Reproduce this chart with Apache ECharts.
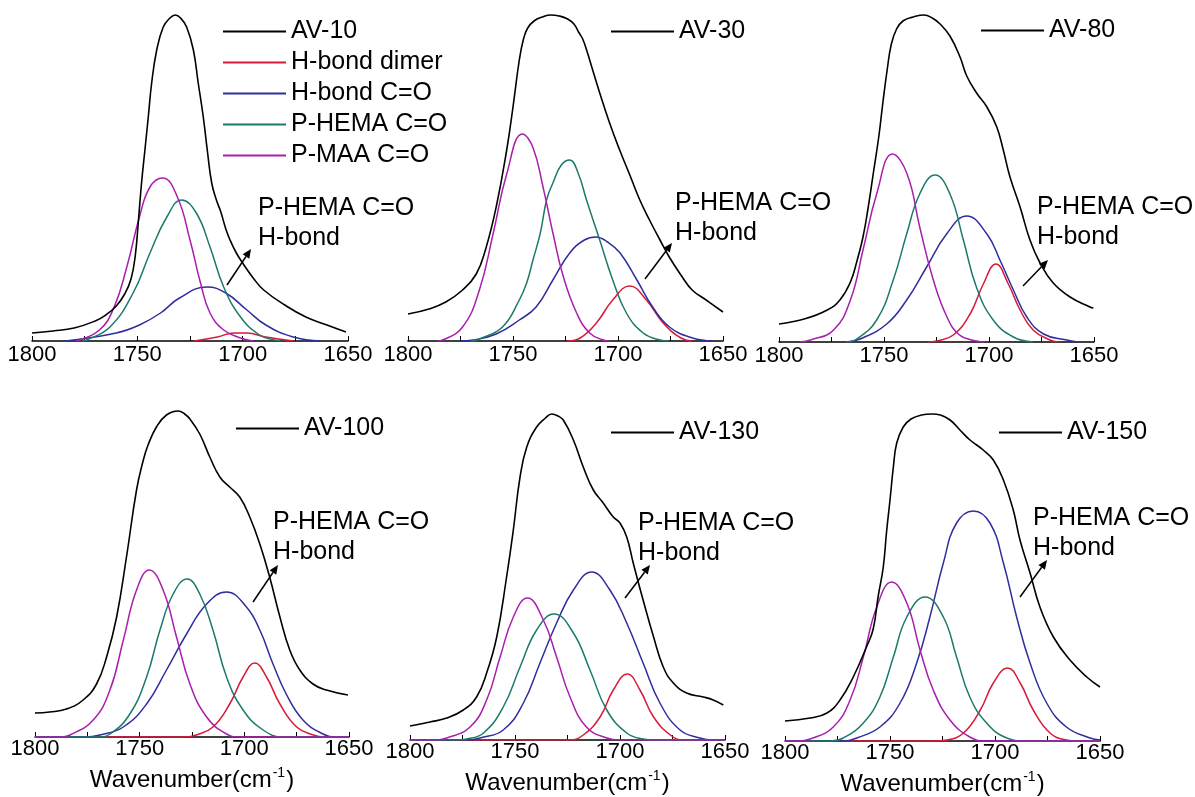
<!DOCTYPE html>
<html>
<head>
<meta charset="utf-8">
<title>FTIR C=O deconvolution</title>
<script src="https://cdn.jsdelivr.net/npm/echarts/dist/echarts.min.js"></script>
<style>
html, body { margin: 0; padding: 0; background: #fff; }
#chart { width: 1195px; height: 797px; }
</style>
</head>
<body>
<div id="chart"></div>
<script>
// x ticks (wavenumber, cm-1)
var xTicks = [1800, 1750, 1700, 1650];
var seriesNames = ['H-bond dimer', 'H-bond C=O', 'P-HEMA C=O', 'P-MAA C=O'];
var sampleNames = ['AV-10', 'AV-30', 'AV-80', 'AV-100', 'AV-130', 'AV-150'];

// ---- AV-10 ----  [wavenumber, absorbance (arb.)]
var av10Total = [[1800,8],[1790,10],[1780,13],[1770,20],[1765,26],[1760,35],[1756,47],[1753,62],[1751,85],[1749.5,120],[1748,158],[1746.4,191],[1744.8,224],[1743.2,258],[1740.8,291],[1737.7,314],[1734.5,323],[1732,326],[1729.5,323],[1726.6,314],[1723.4,291],[1721.1,258],[1718.7,224],[1716.8,191],[1714.7,158],[1712.3,140],[1710.5,130],[1708,112],[1706,101],[1703,88],[1700,78],[1695,63],[1690,51],[1680,36],[1670,24],[1660,16],[1651,9]];
var av10Dimer = [[1723,0],[1712,4],[1704,8],[1698,8],[1689,4],[1676,0]];
var av10HbondCO = [[1784,0],[1760,8],[1749,16],[1739,28],[1730,43],[1717,54],[1708,48],[1698,31],[1689,16],[1676,4],[1663,0]];
var av10HemaCO = [[1776,0],[1774,1],[1763,14],[1752,48],[1744,88],[1736,124],[1729,141],[1722,128],[1715.5,94],[1709,54],[1701,24],[1692,6],[1685,1],[1682,0]];
var av10MaaCO = [[1779,0],[1768,11],[1761,34],[1755,74],[1749,124],[1744,154],[1738,163],[1731,144],[1725,101],[1720,58],[1715.5,28],[1709,11],[1701,3],[1695,0]];

// ---- AV-30 ----
var av30Total = [[1800,27],[1790,32],[1782,39],[1774,51],[1767.5,67],[1763,92],[1758,134],[1753,191],[1750,234],[1747,281],[1745,302],[1743,313],[1740,320],[1736,324],[1732,326],[1728,325],[1724,322],[1721,317],[1718.5,308],[1716.8,302],[1714.5,288],[1712.5,274],[1708.7,248],[1704,218],[1699.2,191],[1694,164],[1689.6,141],[1685,121],[1680,101],[1675.6,84],[1669.4,64],[1664.7,51],[1658,41],[1650,29]];
var av30Dimer = [[1724,0],[1718,3],[1710.3,18],[1702.5,41],[1694.4,55],[1686.5,41],[1678.5,18],[1670,3],[1665,0]];
var av30HbondCO = [[1775,0],[1769,1],[1758,7],[1747,21],[1739,34],[1731,61],[1723,88],[1716,101],[1710.5,104],[1705,99],[1699,88],[1691,61],[1683.5,34],[1675.5,14],[1664.5,3],[1655,0]];
var av30HemaCO = [[1770,0],[1766,2],[1755,14],[1747,41],[1743.5,58],[1740.5,81],[1737,108],[1734,141],[1731,158],[1727,176],[1723,181],[1719,168],[1715,141],[1708.7,101],[1702.5,61],[1696,28],[1688,8],[1680,1],[1676,0]];
var av30MaaCO = [[1786,0],[1783.5,1],[1774,14],[1766,51],[1759.5,107],[1753,167],[1745.5,207],[1740.6,194],[1735.7,154],[1731,108],[1726,64],[1719.7,28],[1713.5,8],[1707,1],[1704,0]];

// ---- AV-80 ----
var av80Total = [[1800,18],[1788,23],[1777,32],[1771,42],[1766,60],[1763,80],[1760,105],[1757.5,135],[1755,170],[1752.5,205],[1750.5,240],[1748.5,272],[1746.5,298],[1744,313],[1741,321],[1736,325],[1731,327],[1727,324],[1723.3,318],[1718.6,306],[1713.8,285],[1710.6,266],[1705.9,249],[1701,235],[1696.3,215],[1693.2,192],[1690,165],[1685.2,135],[1680.5,102],[1675.7,79],[1669.4,59],[1661.4,45],[1652,35],[1650.3,34]];
var av80Dimer = [[1729,0],[1725,1],[1717,7],[1709,28],[1702.7,58],[1696.7,78],[1690.8,58],[1685.2,32],[1679,12],[1671,2],[1667,0]];
var av80HbondCO = [[1768,0],[1761.4,3],[1748.7,18],[1739.2,42],[1729.7,75],[1720.2,108],[1710.6,126],[1701,108],[1694.8,82],[1688.4,52],[1682,25],[1674,8],[1663,2],[1658,0]];
var av80HemaCO = [[1768,0],[1763,3],[1753.5,22],[1745.6,62],[1739.2,108],[1733,148],[1725.7,167],[1718.6,148],[1712.2,102],[1706,55],[1698,22],[1688.4,5],[1679,0]];
var av80MaaCO = [[1790,0],[1785,2],[1774,12],[1766,42],[1760,92],[1753.5,148],[1746,188],[1739,168],[1733,115],[1726.5,62],[1720,25],[1714,7],[1706,1],[1702,0]];

// ---- AV-100 ----
var av100Total = [[1800,24],[1793,25],[1785,28],[1777,37],[1770.6,53],[1765.8,80],[1761,120],[1756.3,180],[1751.5,247],[1748.5,275],[1746,292],[1742,310],[1737.2,322],[1731.6,326],[1728.5,323],[1726,318],[1721.3,303],[1716.5,280],[1711.7,260],[1707,250],[1702.2,240],[1697.4,220],[1692.6,193],[1687.9,160],[1683,120],[1678.3,87],[1673.5,67],[1667.2,53],[1660.8,47],[1650.5,42]];
var av100Dimer = [[1800,0],[1728,0],[1723,2],[1715,10],[1707,33],[1700.6,60],[1695,74],[1689.4,60],[1683,33],[1675,10],[1667,2],[1662,0],[1650,0]];
var av100HbondCO = [[1800,0],[1776,0],[1769,2],[1757.8,10],[1746.7,33],[1737.2,67],[1727.6,103],[1718,133],[1708.5,145],[1699,130],[1692.6,107],[1686.3,73],[1680,43],[1672,17],[1662.4,3],[1656,0],[1650,0]];
var av100HemaCO = [[1800,0],[1770,0],[1764.2,3],[1754.7,23],[1746.7,60],[1740.3,107],[1734,143],[1727.3,158],[1721.3,143],[1715,107],[1708.5,60],[1700.6,27],[1691,7],[1681.5,0],[1650,0]];
var av100MaaCO = [[1800,0],[1788,0],[1783.3,2],[1772.2,17],[1764.2,47],[1757.8,97],[1751.5,147],[1745.4,167],[1738.8,147],[1732.4,100],[1726,53],[1718,20],[1708.5,3],[1702,0],[1650,0]];

// ---- AV-130 ----
var av130Total = [[1800,14],[1790.5,18],[1782.5,22],[1774.6,30],[1768.3,43],[1763.5,67],[1758.7,103],[1754,163],[1750.8,210],[1747.6,263],[1744.4,293],[1739.7,313],[1735.5,322],[1732.5,326],[1729.5,324],[1727,320],[1722.2,300],[1717.5,273],[1712.7,250],[1708,237],[1703.2,223],[1700,217],[1696.8,203],[1693.7,177],[1689,140],[1684,103],[1679.4,73],[1674.6,57],[1668.3,47],[1660.3,43],[1655.6,40],[1650.8,35]];
var av130Dimer = [[1800,0],[1724,0],[1717.5,5],[1709.5,23],[1703.2,50],[1696.5,66],[1690.5,50],[1684,23],[1676,5],[1670,0],[1650,0]];
var av130HbondCO = [[1800,0],[1772,0],[1766.7,2],[1755.6,10],[1746,37],[1738.1,77],[1730.2,117],[1722.2,150],[1713.5,168],[1704.8,150],[1696.8,117],[1689,77],[1681,37],[1671.4,10],[1662,2],[1656,0],[1650,0]];
var av130HemaCO = [[1800,0],[1778,0],[1773,1],[1765,7],[1755.6,33],[1747.6,73],[1739.7,110],[1731.4,126],[1722.2,107],[1714.3,70],[1706.3,30],[1696.8,7],[1689,1],[1684,0],[1650,0]];
var av130MaaCO = [[1800,0],[1788,0],[1782.5,2],[1771.4,13],[1763.5,40],[1757.1,83],[1750.8,123],[1744.1,142],[1736.5,120],[1730.2,83],[1723.8,43],[1716,13],[1706.3,2],[1700,0],[1650,0]];

// ---- AV-150 ----
var av150Total = [[1800,20],[1788,23],[1780,28],[1773.8,41],[1767.5,64],[1761,95],[1758,112],[1755.6,145],[1753.2,174],[1751.6,210],[1750,241],[1748.4,274],[1746.8,298],[1743.7,314],[1740,322],[1735,326],[1730,327],[1726,326],[1721.4,321],[1716.7,311],[1711.9,301],[1705.6,291],[1700.8,281],[1696,261],[1691.3,231],[1688.1,201],[1683.3,168],[1678.6,134],[1672.2,104],[1664.3,81],[1656.3,64],[1650,54]];
var av150Dimer = [[1800,0],[1729,0],[1723,1],[1715,8],[1707,31],[1700.8,58],[1694,73],[1688,58],[1681.8,31],[1673.8,8],[1666,1],[1661,0],[1650,0]];
var av150HbondCO = [[1800,0],[1772,0],[1765.9,3],[1754.8,14],[1745.2,38],[1737.3,78],[1731,124],[1724.6,178],[1718.3,218],[1710.3,230],[1702.4,218],[1696,178],[1689.7,124],[1683.3,78],[1675.4,38],[1666,14],[1654.8,3],[1650,1]];
var av150HemaCO = [[1800,0],[1778,0],[1772.2,3],[1762.7,18],[1754.8,44],[1748.4,84],[1742,124],[1733.3,144],[1724.6,124],[1718.3,84],[1712,44],[1704,18],[1694.4,3],[1685,0],[1650,0]];
var av150MaaCO = [[1800,0],[1794,0],[1788,2],[1777,14],[1769,41],[1762.7,84],[1756.3,134],[1749.2,159],[1742,138],[1735.7,91],[1729.4,51],[1721.4,21],[1712,4],[1704,0],[1650,0]];

var totals = [av10Total, av30Total, av80Total, av100Total, av130Total, av150Total];
var parts = [
    [av10Dimer, av10HbondCO, av10HemaCO, av10MaaCO],
    [av30Dimer, av30HbondCO, av30HemaCO, av30MaaCO],
    [av80Dimer, av80HbondCO, av80HemaCO, av80MaaCO],
    [av100Dimer, av100HbondCO, av100HemaCO, av100MaaCO],
    [av130Dimer, av130HbondCO, av130HemaCO, av130MaaCO],
    [av150Dimer, av150HbondCO, av150HemaCO, av150MaaCO]
];

// layout (pixels)
var H = 330;
var boxes = [
    {left: 32, top: 11, width: 316},
    {left: 408, top: 11, width: 315},
    {left: 779, top: 12, width: 315},
    {left: 35, top: 407, width: 314},
    {left: 410, top: 410, width: 315},
    {left: 785, top: 411, width: 315}
];
var legendPos = [[222, 19], [610, 19], [980, 18], [235, 416], [610, 420], [998, 420]];
var notePos = [[258, 208, 227, 285, 251, 249], [675, 203, 645, 279, 672, 243], [1037, 207, 1023, 286, 1048, 260],
               [273, 522, 253, 602, 278, 565], [638, 523, 625, 598, 650, 565], [1033, 518, 1020, 597, 1047, 560]];

var colors = ['#d81a3a', '#2e2e9e', '#1c7a6c', '#a81fae'];
var FONT = '"Liberation Sans", Arial, sans-serif';

var myChart = echarts.init(document.getElementById('chart'));

var grids = [], xAxes = [], yAxes = [], series = [], legends = [], graphics = [];

boxes.forEach(function (b, i) {
    grids.push({left: b.left, top: b.top, width: b.width, height: H});
    var bottomRow = i >= 3;
    xAxes.push({
        gridIndex: i, type: 'value', inverse: true,
        min: xTicks[3], max: xTicks[0], interval: 50,
        axisLine: {lineStyle: {color: '#000', width: 1.5}},
        axisTick: {inside: true, length: 5, lineStyle: {color: '#000', width: 1}},
        minorTick: {show: true, splitNumber: 2, length: 5, lineStyle: {color: '#000', width: 1}},
        splitLine: {show: false},
        axisLabel: {color: '#000', fontSize: 22, fontFamily: FONT, margin: bottomRow ? 1 : 3,
            formatter: function (v) { return String(v); }},
        name: bottomRow ? '{a|Wavenumber(cm}{s|-1}{a|)}' : '',
        nameLocation: 'middle', nameGap: 29,
        nameTextStyle: {
            rich: {
                a: {fontSize: 24, fontFamily: FONT, color: '#000', lineHeight: 28},
                s: {fontSize: 14, fontFamily: FONT, color: '#000', verticalAlign: 'top', lineHeight: 28, padding: [0, 1, 0, 1]}
            }
        }
    });
    yAxes.push({gridIndex: i, type: 'value', min: 0, max: H, show: false});

    parts[i].forEach(function (d, k) {
        series.push({
            name: seriesNames[k], type: 'line', xAxisIndex: i, yAxisIndex: i,
            data: d, symbol: 'none', smooth: 0.45, silent: true,
            lineStyle: {color: colors[k], width: 1.5}, itemStyle: {color: colors[k]}, z: 2
        });
    });
    series.push({
        name: sampleNames[i], type: 'line', xAxisIndex: i, yAxisIndex: i,
        data: totals[i], symbol: 'none', smooth: 0.45, silent: true,
        lineStyle: {color: '#000', width: 1.6}, itemStyle: {color: '#000'}, z: 3
    });

    legends.push({
        left: legendPos[i][0], top: legendPos[i][1], orient: 'vertical', padding: 0,
        itemWidth: 63, itemHeight: 14, itemGap: 6, selectedMode: false,
        itemStyle: {color: 'rgba(0,0,0,0)', borderWidth: 0, opacity: 0},
        textStyle: {fontSize: 25, fontFamily: FONT, color: '#000'},
        data: i === 0 ? [sampleNames[0]].concat(seriesNames) : [sampleNames[i]]
    });

    var n = notePos[i];
    graphics.push({type: 'text', x: n[0], y: n[1], style: {text: 'P-HEMA C=O', fontSize: 25, fontFamily: FONT, fill: '#000', verticalAlign: 'middle'}});
    graphics.push({type: 'text', x: n[0], y: n[1] + 30, style: {text: 'H-bond', fontSize: 25, fontFamily: FONT, fill: '#000', verticalAlign: 'middle'}});
    // arrow
    var a = Math.atan2(n[5] - n[3], n[4] - n[2]), L = 9, W = 4;
    var bx = n[4] - L * Math.cos(a), by = n[5] - L * Math.sin(a);
    graphics.push({type: 'line', shape: {x1: n[2], y1: n[3], x2: bx, y2: by}, style: {stroke: '#000', lineWidth: 1.5}});
    graphics.push({type: 'polygon', shape: {points: [[n[4], n[5]], [bx + W * Math.sin(a), by - W * Math.cos(a)], [bx - W * Math.sin(a), by + W * Math.cos(a)]]}, style: {fill: '#000'}});
});

var option = {
    animation: false,
    backgroundColor: '#fff',
    grid: grids,
    xAxis: xAxes,
    yAxis: yAxes,
    legend: legends,
    series: series,
    graphic: graphics
};

myChart.setOption(option);
</script>
</body>
</html>
